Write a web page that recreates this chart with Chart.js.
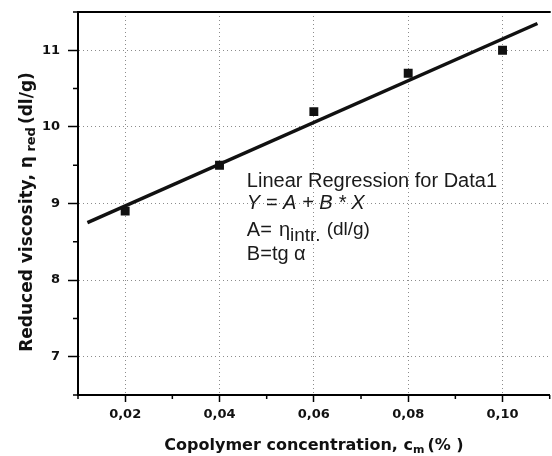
<!DOCTYPE html>
<html>
<head>
<meta charset="utf-8">
<script src="https://cdn.jsdelivr.net/npm/chart.js@4.4.1/dist/chart.umd.min.js"></script>
<style>
  html, body { margin: 0; padding: 0; background: #fff; overflow: hidden; }
  #wrap { width: 556px; height: 456px; }
</style>
</head>
<body>
<div id="wrap"><canvas id="chart" width="556" height="456"></canvas></div>
<script>
// data
const concentration = [0.02, 0.04, 0.06, 0.08, 0.10];
const reducedViscosity = [8.9, 9.5, 10.2, 10.7, 11.0];
// regression line ends
const fitX = [0.012, 0.1074];
const fitY = [8.75, 11.35];

const xTicks = [0.02, 0.04, 0.06, 0.08, 0.10];
const xTickLabels = ['0,02', '0,04', '0,06', '0,08', '0,10'];
const yTicks = [7, 8, 9, 10, 11];
const yTickLabels = ['7', '8', '9', '10', '11'];
const xMinor = [0.01, 0.03, 0.05, 0.07, 0.09, 0.11];
const yMinor = [6.5, 7.5, 8.5, 9.5, 10.5, 11.5];

const tickFont = { family: 'DejaVu Sans', size: 13, weight: 'bold' };
const boldFam = '"DejaVu Sans"';
const textFam = '"Liberation Sans", Arial';

// draws pieces of text one after another, with an optional vertical shift
function drawRuns(ctx, x, y, runs) {
  let cx = x;
  runs.forEach(r => {
    ctx.font = r.font;
    ctx.fillText(r.text, cx, y + (r.dy || 0));
    cx += ctx.measureText(r.text).width + (r.gap || 0);
  });
  return cx - x;
}
function runsWidth(ctx, runs) {
  let w = 0;
  runs.forEach(r => { ctx.font = r.font; w += ctx.measureText(r.text).width + (r.gap || 0); });
  return w;
}

const extras = {
  id: 'extras',
  afterDraw(chart) {
    const ctx = chart.ctx;
    const xs = chart.scales.x, ys = chart.scales.y;
    const a = chart.chartArea;
    ctx.save();

    // top frame line
    ctx.strokeStyle = '#000';
    ctx.lineWidth = 2;
    ctx.beginPath();
    ctx.moveTo(a.left - 1, a.top);
    ctx.lineTo(a.right + 1, a.top);
    ctx.stroke();

    // minor ticks
    ctx.lineWidth = 1.5;
    ctx.beginPath();
    xMinor.forEach(v => {
      const px = xs.getPixelForValue(v);
      ctx.moveTo(px, a.bottom);
      ctx.lineTo(px, a.bottom + 4);
    });
    yMinor.forEach(v => {
      const py = ys.getPixelForValue(v);
      ctx.moveTo(a.left, py);
      ctx.lineTo(a.left - 5, py);
    });
    ctx.stroke();

    // annotation
    ctx.fillStyle = '#1a1a1a';
    ctx.textBaseline = 'alphabetic';
    ctx.textAlign = 'left';
    const ax = xs.getPixelForValue(0.0458);
    const y1 = ys.getPixelForValue(9.21);
    drawRuns(ctx, ax, y1, [{ text: 'Linear Regression for Data1', font: '20px ' + textFam }]);
    drawRuns(ctx, ax, y1 + 22, [{ text: 'Y = A + B * X', font: 'italic 20px ' + textFam }]);
    drawRuns(ctx, ax, y1 + 49, [
      { text: 'A=', font: '20px ' + textFam, gap: 7 },
      { text: 'η', font: '20px ' + textFam, gap: 0 },
      { text: 'intr.', font: '19px ' + textFam, dy: 5, gap: 6 },
      { text: '(dl/g)', font: '19px ' + textFam, dy: -1 }
    ]);
    drawRuns(ctx, ax, y1 + 73, [{ text: 'B=tg α', font: '20px ' + textFam }]);

    // x title
    ctx.fillStyle = '#111';
    const xRuns = [
      { text: 'Copolymer concentration, c', font: 'bold 16px ' + boldFam },
      { text: 'm', font: 'bold 11px ' + boldFam, dy: 3, gap: 3 },
      { text: '(% )', font: 'bold 16px ' + boldFam }
    ];
    const xw = runsWidth(ctx, xRuns);
    drawRuns(ctx, 314 - xw / 2, 450, xRuns);

    // y title
    const yRuns = [
      { text: 'Reduced viscosity, η', font: 'bold 17px ' + boldFam },
      { text: ' red', font: 'bold 13px ' + boldFam, dy: 3, gap: 3 },
      { text: '(dl/g)', font: 'bold 17px ' + boldFam }
    ];
    const yw = runsWidth(ctx, yRuns);
    ctx.translate(32, 212);
    ctx.rotate(-Math.PI / 2);
    drawRuns(ctx, -yw / 2, 0, yRuns);

    ctx.restore();
  }
};

new Chart(document.getElementById('chart'), {
  type: 'scatter',
  data: {
    datasets: [
      {
        label: 'fit',
        data: fitX.map((x, i) => ({ x: x, y: fitY[i] })),
        showLine: true,
        borderColor: '#111',
        borderWidth: 3.5,
        pointRadius: 0
      },
      {
        label: 'Data1',
        data: concentration.map((x, i) => ({ x: x, y: reducedViscosity[i] })),
        pointStyle: 'rect',
        pointRadius: 6.3,
        pointBorderWidth: 0,
        backgroundColor: '#111',
        borderColor: '#111'
      }
    ]
  },
  options: {
    responsive: false,
    animation: false,
    devicePixelRatio: 1,
    layout: { padding: { top: 12, right: 2, left: 0, bottom: 0 } },
    plugins: { legend: { display: false }, tooltip: { enabled: false } },
    scales: {
      x: {
        type: 'linear',
        min: 0.01,
        max: 0.11,
        afterBuildTicks: s => { s.ticks = xTicks.map(v => ({ value: v })); },
        afterFit: s => { s.height = 61; s.paddingLeft = 0; s.paddingRight = 0; },
        ticks: {
          callback: (v, i) => xTickLabels[i],
          font: tickFont,
          color: '#111',
          padding: 5,
          maxRotation: 0,
          autoSkip: false
        },
        grid: {
          color: '#8c8c8c',
          lineWidth: 1,
          tickColor: '#000',
          tickBorderDash: [],
          tickLength: 7,
          tickWidth: 1.5
        },
        border: { color: '#000', width: 2, dash: [1, 3] }
      },
      y: {
        type: 'linear',
        min: 6.5,
        max: 11.5,
        afterBuildTicks: s => { s.ticks = yTicks.map(v => ({ value: v })); },
        afterFit: s => { s.width = 78; s.paddingTop = 0; s.paddingBottom = 0; },
        ticks: {
          callback: (v, i) => yTickLabels[i],
          font: tickFont,
          color: '#111',
          padding: 8,
          autoSkip: false
        },
        grid: {
          color: '#8c8c8c',
          lineWidth: 1,
          tickColor: '#000',
          tickBorderDash: [],
          tickLength: 10,
          tickWidth: 1.5
        },
        border: { color: '#000', width: 2, dash: [1, 3] }
      }
    }
  },
  plugins: [extras]
});
</script>
</body>
</html>
